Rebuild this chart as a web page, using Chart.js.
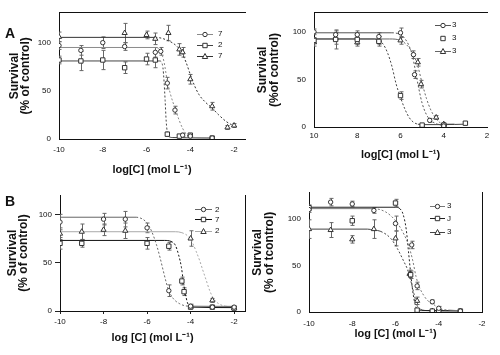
<!DOCTYPE html>
<html><head><meta charset="utf-8">
<script src="https://cdn.jsdelivr.net/npm/chart.js@4.4.1/dist/chart.umd.min.js"></script>
<style>
html,body{margin:0;padding:0;background:#fff;}
body{width:500px;height:355px;position:relative;overflow:hidden;}
.panel{position:absolute;}
.tag{position:absolute;font:bold 14px "Liberation Sans",Arial,sans-serif;color:#111;line-height:16px;}
</style></head><body>
<div class="panel" style="left:0;top:0;width:250px;height:180px"><canvas id="cAL"></canvas></div>
<div class="panel" style="left:250px;top:0;width:250px;height:180px"><canvas id="cAR"></canvas></div>
<div class="panel" style="left:0;top:180px;width:250px;height:175px"><canvas id="cBL"></canvas></div>
<div class="panel" style="left:250px;top:180px;width:250px;height:175px"><canvas id="cBR"></canvas></div>
<div class="tag" style="left:5px;top:25px">A</div>
<div class="tag" style="left:5px;top:193px">B</div>
<script>
// ---------- tick values / labels ----------
const xTickVals = [-10, -8, -6, -4, -2];
const xTickLabelsSigned = ['-10', '-8', '-6', '-4', '-2'];
const xTickLabelsPlain = ['10', '8', '6', '4', '2'];
const yTickVals = [0, 50, 100];

// ---------- Panel A (left) ----------
const aL_labels = ['7', '2', '7'];
const aL_circ_x = [-10, -9, -8, -7, -5.6, -5.35, -5.05, -4.7, -4.35, -4.0, -3.0];
const aL_circ_y = [97, 92, 100, 96, 90, 91, 58, 30, 4, 3, 1];
const aL_circ_e = [4, 5, 6, 4, 5, 4, 6, 4, 2, 1, 1];
const aL_circ_cx = [-10, -5.6, -5.45, -5.35, -5.2, -5.05, -4.9, -4.7, -4.5, -4.35, -4.15, -4.0, -3.0];
const aL_circ_cy = [95, 95, 94, 91, 80, 60, 46, 32, 19, 11, 4, 2, 1];
const aL_sq_x = [-10, -9, -8, -7, -6, -5.6, -5.05, -4.5, -4.0, -3.0];
const aL_sq_y = [82, 81, 82, 74, 83, 82, 5, 3, 4, 1];
const aL_sq_e = [4, 10, 10, 6, 6, 8, 2, 1, 1, 1];
const aL_sq_cx = [-10, -5.4, -5.3, -5.25, -5.2, -5.15, -5.1, -5.05, -5.0, -4.8, -3.0];
const aL_sq_cy = [81, 81, 79, 74, 60, 40, 18, 7, 3, 1.5, 1];
const aL_tri_x = [-10, -7, -6, -5.6, -5, -4.5, -4.35, -4, -3, -2.3, -2];
const aL_tri_y = [106, 110, 108, 104, 110, 93, 90, 62, 34, 12, 14];
const aL_tri_e = [5, 10, 4, 6, 8, 6, 5, 5, 4, 2, 2];
const aL_tri_cx = [-10, -5.6, -5.0, -4.6, -4.4, -4.2, -4.0, -3.8, -3.6, -3.3, -3.0, -2.7, -2.35, -2.05];
const aL_tri_cy = [105.5, 105.5, 102, 96, 90, 80, 67, 55, 46, 38, 32, 25, 18, 14];

// ---------- Panel A (right) ----------
const aR_labels = ['3', '3', '3'];
const aR_circ_x = [-10, -9, -8, -7, -6, -5.4, -5.35, -4.65, -4.0];
const aR_circ_y = [100, 97, 97, 95, 99, 76, 55, 7, 1];
const aR_circ_e = [3, 4, 4, 4, 5, 4, 4, 2, 1];
const aR_circ_cx = [-10, -6.4, -6.0, -5.8, -5.6, -5.45, -5.3, -5.15, -5.0, -4.8, -4.6, -4.3, -4.0];
const aR_circ_cy = [99, 99, 97, 93, 85, 75, 58, 40, 25, 13, 7, 3, 2];
const aR_sq_x = [-10, -9, -8, -7, -6, -5, -4, -3];
const aR_sq_y = [91, 92, 92, 90, 33, 2, 2, 4];
const aR_sq_e = [3, 10, 5, 5, 4, 1, 1, 1];
const aR_sq_cx = [-10, -7.2, -7.0, -6.8, -6.6, -6.4, -6.2, -6.0, -5.8, -5.6, -5.4, -5.2, -5.0, -4.0, -3.0];
const aR_sq_cy = [92.5, 92.5, 91, 87, 78, 64, 45, 31, 19, 10, 5, 3, 2.5, 2.5, 3];
const aR_tri_x = [-10, -9, -8, -7, -6, -5.2, -5.05, -4.35, -4.0];
const aR_tri_y = [89, 93, 89, 91, 91, 68, 45, 10, 3];
const aR_tri_e = [4, 6, 4, 4, 4, 4, 4, 2, 1];
const aR_tri_cx = [-10, -6.5, -6.0, -5.7, -5.4, -5.2, -5.0, -4.8, -4.6, -4.4, -4.2, -4.0, -3.5];
const aR_tri_cy = [92.5, 92.5, 91, 86, 76, 64, 46, 30, 18, 10, 5, 3, 3];

// ---------- Panel B (left) ----------
const bL_labels = ['2', '7', '2'];
const bL_circ_x = [-10, -8, -7, -6, -5, -4, -3, -2];
const bL_circ_y = [92, 95, 95, 86, 21, 5, 4, 4];
const bL_circ_e = [8, 6, 8, 5, 6, 2, 1, 1];
const bL_circ_cx = [-10, -6.5, -6.2, -6.0, -5.8, -5.56, -5.4, -5.26, -5.1, -5.0, -4.8, -4.5, -4.1, -2.0];
const bL_circ_cy = [97, 97, 95, 91, 83, 68, 55, 42, 28, 21, 13, 7.5, 5, 4.8];
const bL_sq_x = [-10, -9, -6, -5, -4.4, -4.3, -4, -3, -2];
const bL_sq_y = [70, 70, 70, 67, 31, 20, 4, 4, 3];
const bL_sq_e = [6, 4, 6, 4, 4, 4, 1, 1, 1];
const bL_sq_cx = [-10, -5.2, -4.9, -4.7, -4.55, -4.42, -4.33, -4.24, -4.15, -4.05, -3.9, -2.0];
const bL_sq_cy = [73, 73, 72, 68, 58, 45, 30, 18, 9, 5, 4, 3.5];
const bL_tri_x = [-10, -9, -8, -7, -4, -3, -2];
const bL_tri_y = [80, 82, 84, 83, 75, 11, 3];
const bL_tri_e = [6, 8, 6, 8, 8, 2, 1];
const bL_tri_cx = [-10, -4.7, -4.4, -4.1, -3.9, -3.75, -3.58, -3.45, -3.3, -3.12, -2.95, -2.74, -2.4, -2.0];
const bL_tri_cy = [82, 82, 81, 77, 70, 62, 52, 43, 33, 21, 13, 8, 5, 4];

// ---------- Panel B (right) ----------
const bR_labels = ['3', 'J', '3'];
const bR_circ_x = [-10, -9, -8, -7, -6, -5.25, -5, -4.3, -4, -3];
const bR_circ_y = [110, 118, 116, 109, 95, 72, 28, 11, 4, 1];
const bR_circ_e = [3, 4, 3, 3, 8, 4, 4, 2, 2, 1];
const bR_circ_cx = [-10, -7, -6.5, -6.2, -5.9, -5.6, -5.4, -5.2, -5.05, -4.9, -4.7, -4.5, -4.23, -4.0, -3.5, -3.0];
const bR_circ_cy = [111, 111, 108, 103, 95, 83, 72, 55, 38, 27, 18, 12, 8, 4, 2, 1.5];
const bR_sq_x = [-10, -8, -6, -5.3, -5, -4.3, -4, -3];
const bR_sq_y = [112, 98, 117, 40, 2, 1, 1, 1];
const bR_sq_e = [3, 5, 4, 4, 1, 1, 1, 1];
const bR_sq_cx = [-10, -6.0, -5.8, -5.65, -5.5, -5.4, -5.3, -5.2, -5.1, -5.0, -4.8, -3.0];
const bR_sq_cy = [112.5, 112.5, 111, 105, 88, 65, 42, 22, 9, 3, 1.5, 1.5];
const bR_tri_x = [-10, -9, -8, -7, -6, -5.35, -5, -4.3, -3];
const bR_tri_y = [89, 88, 78, 89, 79, 41, 12, 1, 1];
const bR_tri_e = [10, 8, 4, 10, 8, 4, 4, 1, 1];
const bR_tri_cx = [-10, -7.3, -7.0, -6.68, -6.22, -5.91, -5.61, -5.45, -5.3, -5.15, -5.0, -4.85, -4.5, -3.0];
const bR_tri_cy = [89, 89, 88, 86.5, 79, 68, 54, 46, 34, 20, 7, 3, 1.5, 1];

// ---------- helpers ----------
const FAM = "'Liberation Sans', Arial, sans-serif";

function drawMarker(ctx, style, x, y, color) {
  ctx.save();
  ctx.strokeStyle = color; ctx.fillStyle = '#fff'; ctx.lineWidth = 1;
  ctx.beginPath();
  if (style === 'circle') { ctx.arc(x, y, 2.2, 0, Math.PI * 2); }
  else if (style === 'rect') { ctx.rect(x - 2.2, y - 2.2, 4.4, 4.4); }
  else { ctx.moveTo(x, y - 3); ctx.lineTo(x + 2.7, y + 2); ctx.lineTo(x - 2.7, y + 2); ctx.closePath(); }
  ctx.fill(); ctx.stroke();
  ctx.restore();
}

const errorBarPlugin = {
  id: 'errorBars',
  beforeDatasetsDraw(chart) {
    const ctx = chart.ctx, ys = chart.scales.y, ca = chart.chartArea;
    ctx.save();
    ctx.beginPath(); ctx.rect(ca.left, ca.top - 2, ca.right - ca.left, ca.bottom - ca.top + 2); ctx.clip();
    chart.data.datasets.forEach((ds, di) => {
      if (!ds.errs) return;
      const meta = chart.getDatasetMeta(di);
      ctx.strokeStyle = ds.errColor; ctx.lineWidth = 1;
      meta.data.forEach((pt, i) => {
        const e = ds.errs[i]; if (!e) return;
        const v = ds.data[i].y;
        const x = Math.round(pt.x) + 0.5;
        const y1 = ys.getPixelForValue(v + e), y2 = ys.getPixelForValue(v - e);
        ctx.beginPath();
        ctx.moveTo(x, y1); ctx.lineTo(x, y2);
        ctx.moveTo(x - 2, y1); ctx.lineTo(x + 2, y1);
        ctx.moveTo(x - 2, y2); ctx.lineTo(x + 2, y2);
        ctx.stroke();
      });
    });
    ctx.restore();
  }
};

const miniLegendPlugin = {
  id: 'miniLegend',
  afterDraw(chart, args, o) {
    if (!o || !o.rows) return;
    const ctx = chart.ctx;
    const sets = chart.data.datasets.filter(d => d.legendText !== undefined);
    sets.forEach((ds, i) => {
      const y = o.rows[i];
      ctx.save();
      if (!(o.noLine || []).includes(i)) {
        ctx.strokeStyle = ds.legendLineColor; ctx.lineWidth = 1;
        ctx.beginPath(); ctx.moveTo(o.x, Math.round(y) + 0.5); ctx.lineTo(o.x + o.len, Math.round(y) + 0.5); ctx.stroke();
      }
      drawMarker(ctx, ds.pointStyle, o.x + o.len / 2, Math.round(y) + 0.5, ds.pointBorderColor);
      ctx.fillStyle = '#111'; ctx.font = '8px ' + FAM; ctx.textBaseline = 'middle'; ctx.textAlign = 'left';
      ctx.fillText(ds.legendText, o.textX, y);
      ctx.restore();
    });
  }
};

function buildChart(id, p) {
  const datasets = [];
  p.series.forEach(s => {
    datasets.push({
      type: 'scatter', data: s.cx.map((x, i) => ({ x, y: s.cy[i] })),
      showLine: true, borderColor: s.lineColor, borderWidth: 1, pointRadius: 0,
      cubicInterpolationMode: 'monotone', order: 2,
      segment: { borderDash: c => Math.abs(c.p0.parsed.y - c.p1.parsed.y) > 1.5 ? [2, 2] : undefined }
    });
  });
  p.series.forEach(s => {
    datasets.push({
      type: 'scatter', data: s.x.map((x, i) => ({ x, y: s.y[i] })),
      errs: s.e, errColor: s.errColor || '#666',
      pointStyle: s.style, pointRadius: s.style === 'rect' ? 3.1 : (s.style === 'triangle' ? 3 : 2.2),
      pointBackgroundColor: '#fff', pointBorderColor: s.markColor || '#333', pointBorderWidth: 1,
      showLine: false, order: 1, legendText: s.label, legendLineColor: s.lineColor
    });
  });
  const scales = {
    x: {
      type: 'linear', min: p.xMin, max: p.xMax, position: 'bottom',
      afterBuildTicks: s => { s.ticks = xTickVals.map(v => ({ value: v })); },
      afterFit: s => { s.height = p.xAxisH; },
      ticks: { autoSkip: false, maxRotation: 0, padding: p.xTickPad, color: '#111',
               font: { size: 8, family: FAM }, callback: (v, i) => p.xLabels[i] },
      grid: { display: p.xTickLen > 0, drawOnChartArea: false, drawTicks: p.xTickLen > 0, tickLength: p.xTickLen, color: '#222' },
      border: { display: true, color: '#111', width: 1 },
      title: { display: true, text: p.xTitle, color: '#111', font: { size: 11, weight: 'bold', family: FAM, lineHeight: 1.2 },
               padding: { top: 0, bottom: p.xTitlePad } }
    },
    y: {
      type: 'linear', min: 0, max: p.yMax, position: 'left',
      afterBuildTicks: s => { s.ticks = yTickVals.map(v => ({ value: v })); },
      afterFit: s => { s.width = p.yAxisW; },
      ticks: { padding: p.yTickPad, color: '#111', font: { size: 8, family: FAM } },
      grid: { display: p.yTickLen > 0, drawOnChartArea: false, drawTicks: p.yTickLen > 0, tickLength: p.yTickLen, color: '#222' },
      border: { display: true, color: '#111', width: 1 },
      title: { display: true, text: p.yTitle, color: '#111', font: { size: 12, weight: 'bold', family: FAM, lineHeight: p.yTitleLH },
               padding: { top: p.yTitlePad, bottom: 0 } }
    }
  };
  if (p.topBorder) {
    scales.x2 = { type: 'linear', min: p.xMin, max: p.xMax, position: 'top', display: true,
      afterFit: s => { s.height = 0; }, ticks: { display: false }, grid: { display: false, drawTicks: false },
      border: { display: true, color: '#111', width: 1 } };
  }
  if (p.rightBorder) {
    scales.y2 = { type: 'linear', min: 0, max: p.yMax, position: 'right', display: true,
      afterFit: s => { s.width = 0; }, ticks: { display: false }, grid: { display: false, drawTicks: false },
      border: { display: true, color: '#111', width: 1 } };
  }
  return new Chart(document.getElementById(id), {
    type: 'scatter',
    data: { datasets },
    plugins: [errorBarPlugin, miniLegendPlugin],
    options: {
      responsive: true, maintainAspectRatio: false, animation: false, events: [],
      layout: { padding: p.pad },
      scales,
      plugins: { legend: { display: false }, tooltip: { enabled: false }, miniLegend: p.legend }
    }
  });
}

const xTitleNoSpace = 'log[C] (mol L\u207B\u00B9)';
const xTitleSpace = 'log [C] (mol L\u207B\u00B9)';

buildChart('cAL', {
  xMin: -10, xMax: -1.5, yMax: 131, xLabels: xTickLabelsSigned,
  pad: { left: 0, top: 12, right: 5, bottom: 0 }, yAxisW: 59, xAxisH: 41,
  xTickPad: 6, xTickLen: 0, yTickPad: 8, yTickLen: 0,
  xTitle: xTitleNoSpace, xTitlePad: 3.4,
  yTitle: ['Survival', '(% of control)'], yTitleLH: 0.95, yTitlePad: 8.5,
  topBorder: true, rightBorder: false,
  legend: { x: 197, len: 16, textX: 218, rows: [34, 44.5, 56] },
  series: [
    { label: aL_labels[0], style: 'circle', x: aL_circ_x, y: aL_circ_y, e: aL_circ_e, cx: aL_circ_cx, cy: aL_circ_cy, lineColor: '#8a8a8a' },
    { label: aL_labels[1], style: 'rect', x: aL_sq_x, y: aL_sq_y, e: aL_sq_e, cx: aL_sq_cx, cy: aL_sq_cy, lineColor: '#444' },
    { label: aL_labels[2], style: 'triangle', x: aL_tri_x, y: aL_tri_y, e: aL_tri_e, cx: aL_tri_cx, cy: aL_tri_cy, lineColor: '#333' }
  ]
});

buildChart('cAR', {
  xMin: -10, xMax: -2, yMax: 120, xLabels: xTickLabelsPlain,
  pad: { left: 0, top: 12, right: 13, bottom: 0 }, yAxisW: 64, xAxisH: 53,
  xTickPad: 4, xTickLen: 0, yTickPad: 8, yTickLen: 0,
  xTitle: xTitleNoSpace, xTitlePad: 18.4,
  yTitle: ['Survival', '(%of control)'], yTitleLH: 1.05, yTitlePad: 6.2,
  topBorder: true, rightBorder: false,
  legend: { x: 185, len: 16, textX: 202, rows: [25, 38, 51], noLine: [1] },
  series: [
    { label: aR_labels[0], style: 'circle', x: aR_circ_x, y: aR_circ_y, e: aR_circ_e, cx: aR_circ_cx, cy: aR_circ_cy, lineColor: '#555' },
    { label: aR_labels[1], style: 'rect', x: aR_sq_x, y: aR_sq_y, e: aR_sq_e, cx: aR_sq_cx, cy: aR_sq_cy, lineColor: '#444' },
    { label: aR_labels[2], style: 'triangle', x: aR_tri_x, y: aR_tri_y, e: aR_tri_e, cx: aR_tri_cx, cy: aR_tri_cy, lineColor: '#666' }
  ]
});

buildChart('cBL', {
  xMin: -10, xMax: -1.5, yMax: 120, xLabels: xTickLabelsSigned,
  pad: { left: 0, top: 15, right: 5, bottom: 0 }, yAxisW: 60, xAxisH: 44,
  xTickPad: 3, xTickLen: 3, yTickPad: 3, yTickLen: 5,
  xTitle: xTitleSpace, xTitlePad: 10.4,
  yTitle: ['Survival', '(% of control)'], yTitleLH: 0.9, yTitlePad: 7,
  topBorder: false, rightBorder: true,
  legend: { x: 195, len: 17, textX: 215, rows: [29.3, 39.3, 50.7] },
  series: [
    { label: bL_labels[0], style: 'circle', x: bL_circ_x, y: bL_circ_y, e: bL_circ_e, cx: bL_circ_cx, cy: bL_circ_cy, lineColor: '#666' },
    { label: bL_labels[1], style: 'rect', x: bL_sq_x, y: bL_sq_y, e: bL_sq_e, cx: bL_sq_cx, cy: bL_sq_cy, lineColor: '#111' },
    { label: bL_labels[2], style: 'triangle', x: bL_tri_x, y: bL_tri_y, e: bL_tri_e, cx: bL_tri_cx, cy: bL_tri_cy, lineColor: '#aaa' }
  ]
});

buildChart('cBR', {
  xMin: -10, xMax: -2, yMax: 128, xLabels: xTickLabelsSigned,
  pad: { left: 0, top: 10, right: 18, bottom: 0 }, yAxisW: 59, xAxisH: 43,
  xTickPad: 7, xTickLen: 0, yTickPad: 8, yTickLen: 0,
  xTitle: xTitleSpace, xTitlePad: 14.4,
  yTitle: ['Survival', '(% of tcontrol)'], yTitleLH: 1.0, yTitlePad: 1.7,
  topBorder: false, rightBorder: true,
  legend: { x: 180, len: 15, textX: 197, rows: [25.7, 38.3, 51.7] },
  series: [
    { label: bR_labels[0], style: 'circle', x: bR_circ_x, y: bR_circ_y, e: bR_circ_e, cx: bR_circ_cx, cy: bR_circ_cy, lineColor: '#777' },
    { label: bR_labels[1], style: 'rect', x: bR_sq_x, y: bR_sq_y, e: bR_sq_e, cx: bR_sq_cx, cy: bR_sq_cy, lineColor: '#222' },
    { label: bR_labels[2], style: 'triangle', x: bR_tri_x, y: bR_tri_y, e: bR_tri_e, cx: bR_tri_cx, cy: bR_tri_cy, lineColor: '#444' }
  ]
});
</script>
</body></html>
